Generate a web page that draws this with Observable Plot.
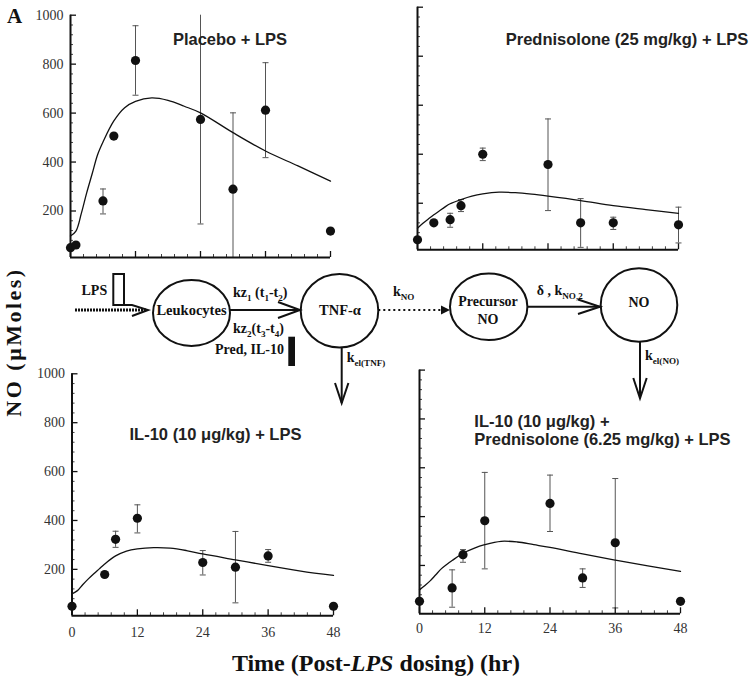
<!DOCTYPE html>
<html><head><meta charset="utf-8">
<script src="https://cdn.jsdelivr.net/npm/d3@7"></script>
<script src="https://cdn.jsdelivr.net/npm/@observablehq/plot@0.6"></script>
<style>
body{margin:0;background:#fff}
#wrap{position:relative;width:754px;height:683px;overflow:hidden;background:#fff}
#wrap svg{position:absolute;left:0;top:0;overflow:visible}
</style></head><body><div id="wrap"></div>
<script>
// ---------- data ----------
const fitTime = [0,1,2,3,4,5,6,8,10,12,15,18,21,24,30,36,42,48];

const placeboTime = [0,1,6,8,12,24,30,36,48];
const placeboMean = [50,61,241,506,815,574,289,612,118];
const placeboLow  = [50,61,188,506,673,147,10,418,118];
const placeboHigh = [50,61,290,506,957,1000,601,806,118];
const placeboFit  = [98,118,190,275,352,430,482,568,622,648,662,652,628,601,520,445,384,322];

const predTime = [0,3,6,8,12,24,30,36,48];
const predMean = [51,120,133,190,400,358,120,120,112];
const predLow  = [51,120,102,166,374,170,20,93,38];
const predHigh = [51,120,159,215,425,544,219,143,184];
const predFit  = [98,118,136,153,168,184,198,215,229,238,245,243,237,229,211,190,174,159];

const il10Time = [0,6,8,12,24,30,36,48];
const il10Mean = [49,179,323,409,228,209,255,49];
const il10Low  = [49,179,290,349,177,63,229,49];
const il10High = [49,179,356,464,277,355,281,49];
const il10Fit  = [100,113,138,161,182,202,222,255,275,284,289,287,277,263,239,215,193,175];

const comboTime = [0,6,8,12,24,30,36,48];
const comboMean = [53,108,244,383,454,149,293,53];
const comboLow  = [53,29,213,186,339,110,26,53];
const comboHigh = [53,182,265,581,570,186,556,53];
const comboFit  = [100,118,138,162,186,204,220,250,270,285,299,296,285,274,247,222,198,176];

const yTickLabels = [200,400,600,800,1000];
const xTickLabels = [0,12,24,36,48];
const yMinor = d3.range(1,25).map(i=>i*40).filter(v=>v%200!==0);
const xMinor = d3.range(1,20).map(i=>i*2.4).filter((_,i)=>(i+1)%5!==0);

const titlesTL = ["Placebo + LPS"];
const titlesTR = ["Prednisolone (25 mg/kg) + LPS"];
const titlesBL = ["IL-10 (10 \u03bcg/kg) + LPS"];
const titlesBR = ["IL-10 (10 \u03bcg/kg) +", "Prednisolone (6.25 mg/kg) + LPS"];

// ---------- layout ----------
const W = 754, H = 683;
const SERIF = "Liberation Serif, Times New Roman, serif";
const SANS = "Liberation Sans, Arial, sans-serif";
const INK = "#111";

const panels = [
  {time:placeboTime, mean:placeboMean, low:placeboLow, high:placeboHigh, fit:placeboFit,
   left:70, right:330, top:14.7, bottom:257, ymin:10, yLab:true, xLab:false},
  {time:predTime, mean:predMean, low:predLow, high:predHigh, fit:predFit,
   left:417, right:678, top:6.7, bottom:249.3, ymin:10, yLab:false, xLab:false},
  {time:il10Time, mean:il10Mean, low:il10Low, high:il10High, fit:il10Fit,
   left:71.5, right:333, top:373.3, bottom:615.3, ymin:10, yLab:true, xLab:true, xPad:11},
  {time:comboTime, mean:comboMean, low:comboLow, high:comboHigh, fit:comboFit,
   left:419, right:680, top:369.6, bottom:613.3, ymin:2, yLab:false, xLab:true, xPad:9},
];

const capSymbol = {draw(ctx, size){ const r = Math.sqrt(size/Math.PI); ctx.moveTo(-r,0); ctx.lineTo(r,0); }};

const wrap = document.getElementById("wrap");

for (const p of panels) {
  const rows = p.time.map((t,i)=>({t, v:p.mean[i], lo:p.low[i], hi:p.high[i]}));
  const fitRows = fitTime.map((t,i)=>({t, v:p.fit[i]}));
  const caps = [];
  rows.forEach(d=>{
    if (d.hi > d.v && d.hi < 1000) caps.push({t:d.t, y:d.hi});
    if (d.lo < d.v && d.lo > p.ymin) caps.push({t:d.t, y:d.lo});
  });
  const fw = p.right - p.left, fh = p.bottom - p.top;
  const marks = [
    Plot.ruleX(rows.filter(d=>d.hi>d.lo), {x:"t", y1:"lo", y2:"hi", stroke:"#555", strokeWidth:1}),
    Plot.dot(caps, {x:"t", y:"y", symbol:capSymbol, r:3, fill:"none", stroke:"#555", strokeWidth:1}),
    Plot.line(fitRows, {x:"t", y:"v", curve:"catmull-rom", stroke:INK, strokeWidth:1.3}),
    Plot.dot(rows, {x:"t", y:"v", r:4.6, fill:INK, stroke:"none"}),
    Plot.ruleX([0], {stroke:INK, strokeWidth:2}),
    Plot.ruleY([p.ymin], {stroke:INK, strokeWidth:2}),
    Plot.tickY(yTickLabels, {y:d=>d, insetRight:fw-6, stroke:INK, strokeWidth:1.3}),
    Plot.tickY(yMinor, {y:d=>d, insetRight:fw-3, stroke:INK, strokeWidth:0.8}),
    Plot.tickX(xTickLabels, {x:d=>d, insetTop:fh-6, stroke:INK, strokeWidth:1.3}),
    Plot.tickX(xMinor, {x:d=>d, insetTop:fh-3, stroke:INK, strokeWidth:0.8}),
  ];
  if (p.yLab) marks.push(Plot.axisY(yTickLabels, {anchor:"left", tickSize:0, tickPadding:7, label:null,
      tickFormat:d=>String(d), fontSize:14, fontFamily:SERIF, color:"#333"}));
  if (p.xLab) marks.push(Plot.axisX(xTickLabels, {anchor:"bottom", tickSize:0, tickPadding:p.xPad, label:null,
      tickFormat:d=>String(d), fontSize:14, fontFamily:SERIF, color:"#333"}));
  const chart = Plot.plot({
    width:W, height:H,
    marginLeft:p.left, marginRight:W-p.right, marginTop:p.top, marginBottom:H-p.bottom,
    x:{domain:[0,48], axis:null},
    y:{domain:[p.ymin,1000], axis:null},
    style:{background:"none", fontFamily:SERIF, fontSize:"14px", color:"#333"},
    marks
  });
  wrap.appendChild(chart);
}

// ---------- overlay: titles, axis labels and the model diagram ----------
const svg = d3.select(wrap).append("svg").attr("width",W).attr("height",H).attr("viewBox",`0 0 ${W} ${H}`);

function title(x, y, txt, anchor){
  svg.append("text").attr("x",x).attr("y",y).attr("text-anchor",anchor)
    .attr("font-family",SANS).attr("font-weight","bold").attr("font-size",16.5).attr("fill","#222").text(txt);
}
title(230, 45, titlesTL[0], "middle");
title(627, 44.5, titlesTR[0], "middle");
title(215.5, 440, titlesBL[0], "middle");
title(474.3, 426.5, titlesBR[0], "start");
title(474.3, 445, titlesBR[1], "start");

svg.append("text").attr("x",7).attr("y",23).attr("font-family",SERIF).attr("font-weight","bold")
  .attr("font-size",21).attr("fill","#111").text("A");

svg.append("text").attr("transform","translate(21,342) rotate(-90)").attr("text-anchor","middle")
  .attr("font-family",SERIF).attr("font-weight","bold").attr("font-size",22).attr("letter-spacing",2.5)
  .attr("fill","#111").text("NO (\u03bcMoles)");

const xl = svg.append("text").attr("x",376).attr("y",671).attr("text-anchor","middle")
  .attr("font-family",SERIF).attr("font-weight","bold").attr("font-size",24).attr("fill","#111");
xl.append("tspan").text("Time (Post-");
xl.append("tspan").attr("font-style","italic").text("LPS");
xl.append("tspan").text(" dosing) (hr)");

function rich(x, y, segs, size, anchor){
  const t = svg.append("text").attr("x",x).attr("y",y).attr("text-anchor",anchor||"start")
    .attr("font-family",SERIF).attr("font-weight","bold").attr("font-size",size).attr("fill","#111");
  let cur = 0;
  for (const s of segs){
    const off = s.sub ? 4 : 0;
    t.append("tspan").attr("dy", off-cur).attr("font-size", s.sub ? size*0.65 : size).text(s.t);
    cur = off;
  }
  return t;
}
const g = svg.append("g").attr("stroke","#111").attr("fill","none").attr("stroke-width",2);
// LPS input
rich(81.5, 295, [{t:"LPS"}], 14);
g.append("rect").attr("x",113.3).attr("y",274).attr("width",10.7).attr("height",31).attr("fill","#fff");
g.append("line").attr("x1",75).attr("y1",310).attr("x2",146).attr("y2",310).attr("stroke-width",3).attr("stroke-dasharray","2 1");
g.append("path").attr("d","M124,305 L132,305 L148,310 L132,316");
// Leukocytes
g.append("ellipse").attr("cx",191.5).attr("cy",313).attr("rx",38.5).attr("ry",33);
rich(191.5, 314.5, [{t:"Leukocytes"}], 14.5, "middle");
g.append("line").attr("x1",230).attr("y1",310).attr("x2",300).attr("y2",310);
g.append("path").attr("d","M278,302 L300,310 L278,318");
rich(233, 296.7, [{t:"kz"},{t:"1",sub:1},{t:" (t"},{t:"1",sub:1},{t:"-t"},{t:"2",sub:1},{t:")"}], 14);
rich(233, 332.7, [{t:"kz"},{t:"2",sub:1},{t:"(t"},{t:"3",sub:1},{t:"-t"},{t:"4",sub:1},{t:")"}], 14);
rich(215, 354.3, [{t:"Pred, IL-10"}], 14);
svg.append("rect").attr("x",288.3).attr("y",336.7).attr("width",6.7).attr("height",29.3).attr("fill","#111");
// TNF
g.append("ellipse").attr("cx",339.5).attr("cy",310.7).attr("rx",38.8).attr("ry",36.7);
rich(340, 315, [{t:"TNF-\u03b1"}], 14.5, "middle");
g.append("line").attr("x1",341.7).attr("y1",347.3).attr("x2",341.7).attr("y2",403);
g.append("path").attr("d","M335,383 L341.7,403 L348.4,383");
rich(346.7, 361.7, [{t:"k"},{t:"el(TNF)",sub:1}], 14);
g.append("line").attr("x1",378.3).attr("y1",310).attr("x2",442).attr("y2",310).attr("stroke-dasharray","2 3");
svg.append("path").attr("d","M441,305.5 L450,310 L441,314.5 Z").attr("fill","#111");
rich(393, 296, [{t:"k"},{t:"NO",sub:1}], 14);
// Precursor NO
g.append("ellipse").attr("cx",488.7).attr("cy",306.7).attr("rx",38.7).attr("ry",33.3);
rich(488, 306, [{t:"Precursor"}], 14, "middle");
rich(488, 324, [{t:"NO"}], 14, "middle");
g.append("line").attr("x1",527.3).attr("y1",306.7).attr("x2",600).attr("y2",306.7);
g.append("path").attr("d","M578,299.5 L600,306.7 L578,314");
rich(536.7, 295, [{t:"\u03b4 , k"},{t:"NO,2",sub:1}], 14);
// NO
g.append("ellipse").attr("cx",639).attr("cy",305).attr("rx",38.3).attr("ry",36.7);
rich(639, 306.7, [{t:"NO"}], 14, "middle");
g.append("line").attr("x1",640).attr("y1",341.7).attr("x2",640).attr("y2",398.3);
g.append("path").attr("d","M633.3,378 L640,398.3 L646.7,378");
rich(645, 360, [{t:"k"},{t:"el(NO)",sub:1}], 14);
</script></body></html>
